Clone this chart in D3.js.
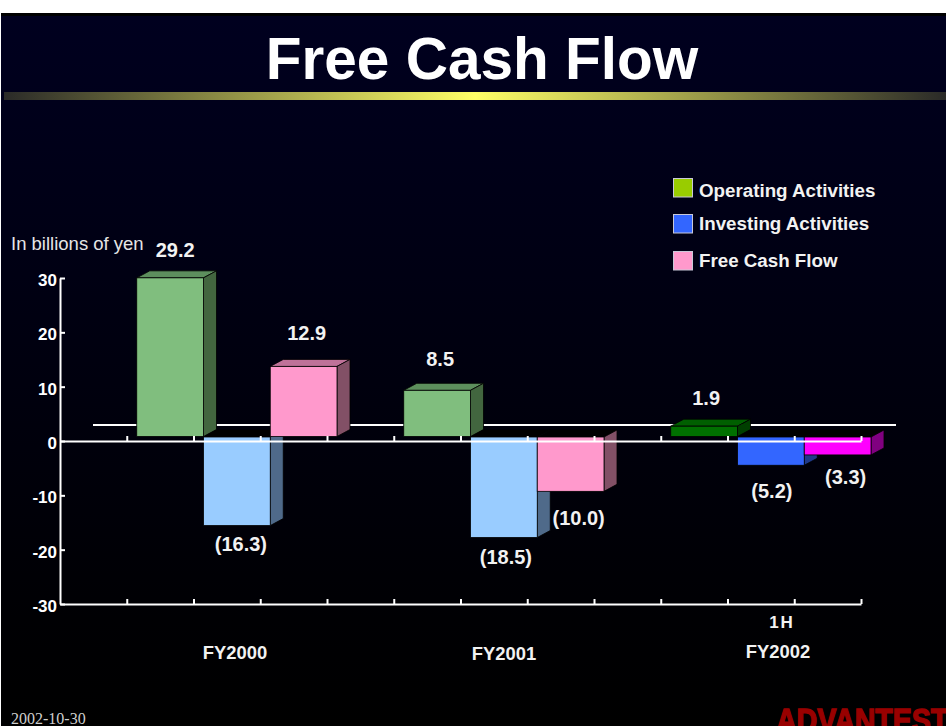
<!DOCTYPE html>
<html>
<head>
<meta charset="utf-8">
<script src="https://cdn.jsdelivr.net/npm/d3@7"></script>
<style>
  html, body { margin: 0; padding: 0; background: #fff; overflow: hidden; }
  svg { display: block; font-family: "Liberation Sans", Arial, sans-serif; }
  .domain, .tick line { stroke: #fff; stroke-width: 2; }
</style>
</head>
<body>
<div id="chart"></div>
<script>
// chart values
const periods = ["FY2000", "FY2001", "FY2002"];
const seriesNames = ["Operating Activities", "Investing Activities", "Free Cash Flow"];
const operating = [29.2, 8.5, 1.9];
const investing = [-16.3, -18.5, -5.2];
const freeCash = [12.9, -10.0, -3.3];
const yTicks = [-30, -20, -10, 0, 10, 20, 30];

// styles, FY2002 uses the stronger palette
const legendColors = ["#99cc00", "#3366ff", "#ff99cc"];
const paleFaces = [
  { front: "#80be7e", top: "#5d8f5d", side: "#42663f" },
  { front: "#99ccff", top: "#4f6a8a", side: "#4f6a8a" },
  { front: "#ff99cc", top: "#bf7299", side: "#825066" }
];
const strongFaces = [
  { front: "#007000", top: "#005f00", side: "#003f00" },
  { front: "#3366ff", top: "#1f3a8a", side: "#1f3a8a" },
  { front: "#ff00ff", top: "#a000a0", side: "#800080" }
];
// hand placed label shifts from the bar centre / bar end, [dx, dy] per series per period
const labelShift = [
  [[5, -21], [3, -24], [2, -21]],
  [[4, 25], [2, 26], [1, 33]],
  [[3, -26], [8, 34], [8, 29]]
];

const width = 946, height = 726;
const depthX = 13, depthY = 7;

const svg = d3.select("#chart").append("svg")
  .attr("width", width)
  .attr("height", height);

const defs = svg.append("defs");
const bgGrad = defs.append("linearGradient").attr("id", "bg")
  .attr("x1", 0).attr("y1", 0).attr("x2", 0).attr("y2", 1);
bgGrad.append("stop").attr("offset", 0).attr("stop-color", "#00001f");
bgGrad.append("stop").attr("offset", 0.85).attr("stop-color", "#000003");
bgGrad.append("stop").attr("offset", 1).attr("stop-color", "#000");

const ruleGrad = defs.append("linearGradient").attr("id", "rule");
ruleGrad.append("stop").attr("offset", 0).attr("stop-color", "#2a2a28");
ruleGrad.append("stop").attr("offset", 0.5).attr("stop-color", "#ffff66");
ruleGrad.append("stop").attr("offset", 1).attr("stop-color", "#2a2a28");

// slide background
svg.append("rect").attr("x", 1).attr("y", 13).attr("width", width).attr("height", height)
  .attr("fill", "#000");
svg.append("rect").attr("x", 1).attr("y", 16).attr("width", width).attr("height", height - 16)
  .attr("fill", "url(#bg)");
svg.append("rect").attr("x", 4).attr("y", 92).attr("width", width - 4).attr("height", 8)
  .attr("fill", "url(#rule)");

svg.append("text")
  .attr("x", 482).attr("y", 79)
  .attr("text-anchor", "middle")
  .style("font-size", "58.5px").style("font-weight", "bold").style("fill", "#fff")
  .text("Free Cash Flow");

// scales
const y = d3.scaleLinear().domain([-30, 30]).range([604, 278]);
const barBase = 4.5; // bars sit on the back plane, a bit above the axis
const yBar = v => y(v) - barBase;
const slot = d3.scaleLinear().domain([0, 12]).range([60, 861]);
const plot = svg.append("g");

// back plane line
plot.append("line")
  .attr("x1", 93).attr("x2", 896)
  .attr("y1", y(0) - 16).attr("y2", y(0) - 16)
  .attr("stroke", "#fff").attr("stroke-width", 2);

// bars go left to right, later bars cover the side of the one before
const allSeries = [operating, investing, freeCash];
const bars = [];
periods.forEach((p, i) => {
  allSeries.forEach((vals, s) => {
    bars.push({ period: i, series: s, value: vals[i], slot: i * 4 + 1 + s });
  });
});

const barW = slot(1) - slot(0);
const barG = plot.selectAll("g.bar").data(bars).enter().append("g").attr("class", "bar");

function faces(d) {
  const l = slot(d.slot) + 10, r = l + barW;
  const t = d.value > 0 ? yBar(d.value) : yBar(0) + 0.5;
  const b = d.value > 0 ? yBar(0) : yBar(d.value) + 0.5;
  return { l, r, t, b };
}
const colorOf = d => (d.period === 2 ? strongFaces : paleFaces)[d.series];

// the lid of a bar hanging below zero is seen from inside, so it reads black
barG.append("path")
  .attr("d", d => {
    const f = faces(d);
    return `M${f.l},${f.t}L${f.l + depthX},${f.t - depthY}L${f.r + depthX},${f.t - depthY}L${f.r},${f.t}Z`;
  })
  .attr("fill", d => d.value > 0 ? colorOf(d).top : "#000")
  .attr("stroke", "#000").attr("stroke-width", 0.8);

barG.append("path")
  .attr("d", d => {
    const f = faces(d);
    return `M${f.r},${f.t}L${f.r + depthX},${f.t - depthY}L${f.r + depthX},${f.b - depthY}L${f.r},${f.b}Z`;
  })
  .attr("fill", d => colorOf(d).side)
  .attr("stroke", "#000").attr("stroke-width", 0.8);

barG.append("rect")
  .attr("x", d => faces(d).l)
  .attr("y", d => faces(d).t)
  .attr("width", barW)
  .attr("height", d => faces(d).b - faces(d).t)
  .attr("fill", d => colorOf(d).front)
  .attr("stroke", "#000").attr("stroke-width", 0.8);

// axes
const xAxis = d3.axisBottom(slot).tickValues(d3.range(1, 13)).tickSize(-5).tickSizeOuter(0).tickFormat("");
plot.append("g").attr("transform", `translate(0,${y(0)})`).call(xAxis);
plot.append("g").attr("transform", `translate(0,${y(-30)})`).call(xAxis);

const yAxis = d3.axisLeft(y).tickValues(yTicks).tickSize(-5).tickSizeOuter(0).tickPadding(3).tickFormat(String);
const yG = plot.append("g").attr("transform", `translate(${slot(0)},0)`).call(yAxis);
yG.selectAll("text")
  .attr("dy", "0.45em")
  .style("font-family", '"Liberation Sans", Arial, sans-serif')
  .style("font-size", "17px").style("font-weight", "bold").style("fill", "#fff");

// value labels
const fmt = v => v < 0 ? `(${Math.abs(v).toFixed(1)})` : v.toFixed(1);
plot.selectAll("text.val").data(bars).enter().append("text")
  .attr("class", "val")
  .attr("x", d => slot(d.slot) + 10 + barW / 2 + labelShift[d.series][d.period][0])
  .attr("y", d => (d.value > 0 ? faces(d).t : faces(d).b) + labelShift[d.series][d.period][1])
  .attr("text-anchor", "middle")
  .style("font-size", "20px").style("font-weight", "bold").style("fill", "#f2f2f2")
  .text(d => fmt(d.value));

// period labels
const periodX = [235, 504, 778], periodY = [659, 660, 658];
plot.selectAll("text.period").data(periods).enter().append("text")
  .attr("class", "period")
  .attr("x", (d, i) => periodX[i])
  .attr("y", (d, i) => periodY[i])
  .attr("text-anchor", "middle")
  .style("font-size", "18.4px").style("font-weight", "bold").style("fill", "#f2f2f2")
  .text(d => d);

svg.append("text").attr("x", 782).attr("y", 628)
  .attr("text-anchor", "middle")
  .style("font-size", "17px").style("font-weight", "bold").style("letter-spacing", "2px").style("fill", "#f2f2f2")
  .text("1H");

svg.append("text").attr("x", 11).attr("y", 250)
  .style("font-size", "18.5px").style("fill", "#e6e6e6")
  .text("In billions of yen");

// legend
const legendY = [178, 214, 251], legendTextY = [197, 230, 267];
const legend = svg.selectAll("g.legend").data(seriesNames).enter().append("g").attr("class", "legend");
legend.append("rect")
  .attr("x", 673.5).attr("y", (d, i) => legendY[i] + 0.5)
  .attr("width", 19).attr("height", 18.5)
  .attr("fill", (d, i) => legendColors[i])
  .attr("stroke", "#c8c8d8").attr("stroke-width", 1);
legend.append("text")
  .attr("x", 699).attr("y", (d, i) => legendTextY[i])
  .style("font-size", "18.75px").style("font-weight", "bold").style("fill", "#f2f2f2")
  .text(d => d);

// footer
svg.append("text").attr("x", 11).attr("y", 724)
  .style("font-family", '"Liberation Serif", "Times New Roman", serif')
  .style("font-size", "16px").style("fill", "#cfcfcf")
  .text("2002-10-30");

// logo runs off the slide, same as the source picture
svg.append("text")
  .attr("transform", "translate(776,732) scale(0.84,1)")
  .style("font-size", "34px").style("font-weight", "bold")
  .style("fill", "#990000").style("stroke", "#990000").style("stroke-width", 1.5)
  .text("ADVANTEST");
</script>
</body>
</html>
